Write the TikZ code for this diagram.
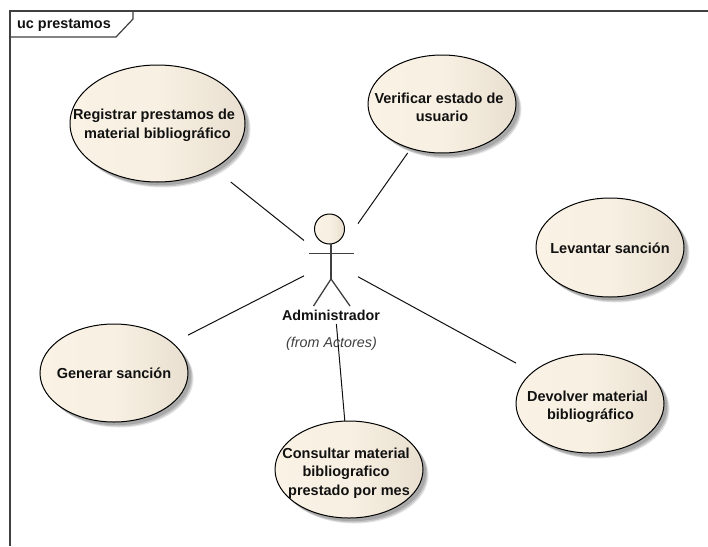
\documentclass[tikz,border=0pt]{standalone}
\usepackage{fontspec}
\setmainfont{Liberation Sans}
\usetikzlibrary{shapes.geometric}
\definecolor{ucleft}{HTML}{F9F2E5}
\definecolor{ucmid}{HTML}{F8F0E2}
\definecolor{ucright}{HTML}{E8DFD0}
\definecolor{inkc}{HTML}{111111}
\definecolor{stick}{HTML}{404040}
\newcommand{\ucfont}{\fontsize{14.5}{18.5}\selectfont\bfseries}
% shifted line of text inside a use case (argument: twice the shift)
\newcommand{\ucline}[2]{\makebox[0pt][c]{\hspace*{#1}#2}}
\tikzset{
  x=1pt,y=-1pt,
  ucshape/.style={ellipse,draw=black,line width=1pt,left color=ucleft,right color=ucright,middle color=ucmid,inner sep=0pt,outer sep=0pt},
  ucbox/.style={rectangle,inner sep=0pt,outer sep=0pt,text=inkc,font=\ucfont},
  assoc/.style={draw=inkc,line width=1pt},
  frameline/.style={draw=stick,line width=1.2pt,line join=miter},
  sticklimb/.style={draw=stick,line width=1.3pt},
  actorname/.style={inner sep=0pt,outer sep=0pt,text=inkc,font=\fontsize{14.3}{15}\selectfont\bfseries},
  actorfrom/.style={inner sep=0pt,outer sep=0pt,text=stick,font=\fontsize{14.3}{15}\selectfont\itshape},
}
% name, cx, cy, rx, ry, vertical raise, text
\newcommand{\usecase}[7]{%
  \fill[black,opacity=0.10] (#2+5.5,#3+5.5) ellipse [x radius=#4,y radius=#5];
  \fill[black,opacity=0.14] (#2+4.5,#3+4.5) ellipse [x radius=#4,y radius=#5];
  \fill[black,opacity=0.14] (#2+3.2,#3+3.2) ellipse [x radius=#4,y radius=#5];
  \node[ucshape,minimum width=2*#4 pt,minimum height=2*#5 pt] (#1shape) at (#2,#3) {};
  \node[ucbox,minimum width=2*#4 pt,minimum height=2*#5 pt] (#1) at (#2,#3)
    {\raisebox{#6}[0pt][0pt]{\begin{tabular}{@{}c@{}}#7\end{tabular}}};
}
\begin{document}
\begin{tikzpicture}
\useasboundingbox (0,0) rectangle (708,546);
\fill[white] (0,0) rectangle (708,546);

% frame and tab
\draw[frameline] (708,11) -- (10,11) -- (10,546);
\draw[frameline] (10,37) -- (116,37) -- (133,19) -- (133,11);
\node[inner sep=0pt,text=inkc,font=\fontsize{14.4}{15}\selectfont\bfseries] (title) at (64,25) {uc prestamos};

% use cases
\usecase{reg}{157.5}{123.5}{87.5}{58.5}{-5.6pt}{\ucline{-7pt}{Registrar prestamos de}\\\ucline{0pt}{material bibliográfico}}
\usecase{ver}{442}{104}{74}{49}{-8.6pt}{\ucline{-6pt}{Verificar estado de}\\\ucline{0pt}{usuario}}
\usecase{lev}{610}{247.5}{74}{49.5}{-5.6pt}{Levantar sanción}
\usecase{dev}{590}{403.5}{74}{49.5}{-7pt}{\ucline{-5pt}{Devolver material}\\\ucline{1pt}{bibliográfico}}
\usecase{gen}{114}{373}{74}{49}{-5.6pt}{Generar sanción}
\usecase{con}{349}{469.5}{74}{48.5}{-7pt}{\ucline{-6pt}{Consultar material}\\\ucline{-6pt}{bibliografico}\\\ucline{0pt}{prestado por mes}}

% actor: invisible box used by the connectors
\node[rectangle,inner sep=0pt,outer sep=0pt,minimum width=54pt,minimum height=124pt] (actor) at (331,262) {};
\node[circle,draw=black,line width=1pt,left color=ucleft,right color=ucright,middle color=ucmid,inner sep=0pt,outer sep=0pt,minimum size=30pt] (head) at (329.5,229) {};
\coordinate (neck) at (331,244);
\coordinate (hip) at (331,279);
\coordinate (armL) at (309,253.5);
\coordinate (armR) at (354,253.5);
\coordinate (footL) at (313.5,306);
\coordinate (footR) at (350,306);
\draw[sticklimb] (neck) -- (hip);
\draw[sticklimb] (armL) -- (armR);
\draw[sticklimb] (footL) -- (hip) -- (footR);
\node[actorname] (adm) at (331,315.5) {Administrador};
\node[actorfrom] (from) at (331.5,344) {(from Actores)};

% associations
\draw[assoc] (actor) -- (reg);
\draw[assoc] (actor) -- (ver);
\draw[assoc] (actor) -- (gen);
\draw[assoc] (actor) -- (dev);
\draw[assoc] (actor) -- (con);
\end{tikzpicture}
\end{document}
